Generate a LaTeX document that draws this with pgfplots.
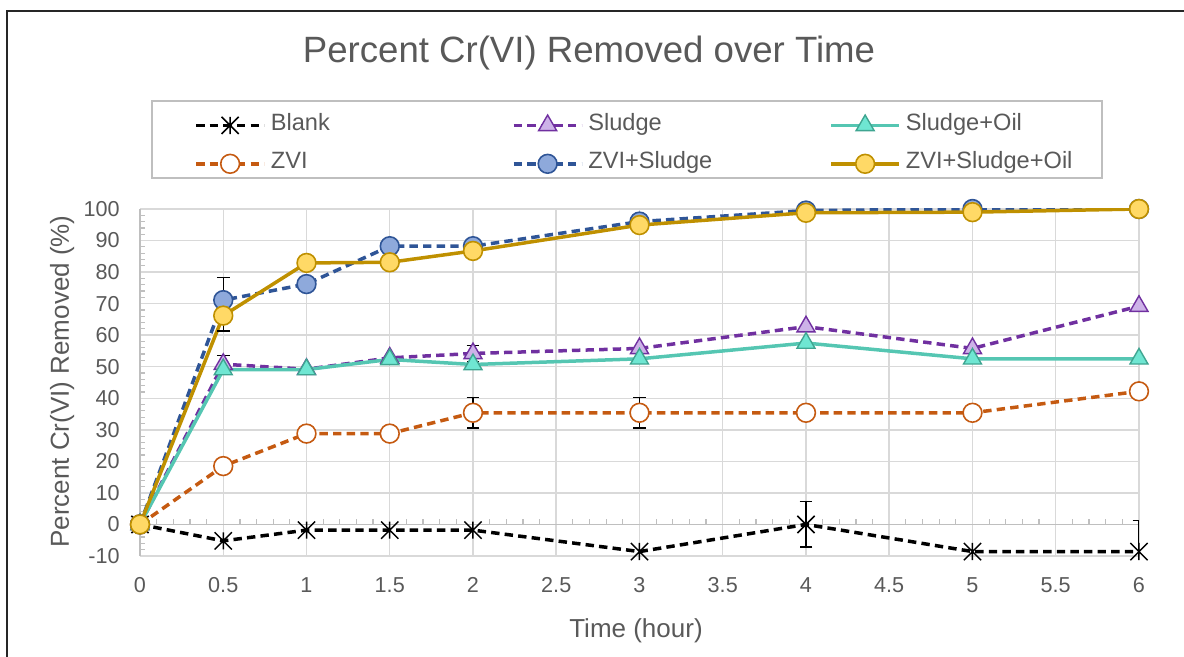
\documentclass[border=0pt]{standalone}
\usepackage{fontspec}
\setmainfont{Liberation Sans}
\usepackage{pgfplots}
\pgfplotsset{compat=1.18}
\definecolor{txt}{HTML}{595959}
\definecolor{gridc}{HTML}{D9D9D9}
\definecolor{axc}{HTML}{BFBFBF}
\definecolor{zvi}{HTML}{C55A11}
\definecolor{sl}{HTML}{7030A0}
\definecolor{slf}{HTML}{CDB2E8}
\definecolor{so}{HTML}{55C6B2}
\definecolor{sof}{HTML}{6FE6D2}
\definecolor{soe}{HTML}{3FA591}
\definecolor{zs}{HTML}{2F5597}
\definecolor{zsf}{HTML}{8EA9DB}
\definecolor{zso}{HTML}{BF9000}
\definecolor{zsof}{HTML}{FFD966}
\pgfdeclareplotmark{xstar}{%
  \pgfpathmoveto{\pgfqpoint{-\pgfplotmarksize}{-\pgfplotmarksize}}%
  \pgfpathlineto{\pgfqpoint{\pgfplotmarksize}{\pgfplotmarksize}}%
  \pgfpathmoveto{\pgfqpoint{-\pgfplotmarksize}{\pgfplotmarksize}}%
  \pgfpathlineto{\pgfqpoint{\pgfplotmarksize}{-\pgfplotmarksize}}%
  \pgfpathmoveto{\pgfqpoint{0pt}{-\pgfplotmarksize}}%
  \pgfpathlineto{\pgfqpoint{0pt}{\pgfplotmarksize}}%
  \pgfusepathqstroke}
\pgfplotsset{
  errstyle/.style={draw=none, forget plot, error bars/.cd, y dir=#1, y explicit,
    error bar style={draw=black, solid, line width=0.75pt},
    error mark options={draw=black, solid, rotate=90, mark size=3.2pt, line width=0.75pt}},
  dashed line/.style={dash pattern=on 4.2pt off 2.6pt},
}
\begin{document}
\begin{tikzpicture}
\useasboundingbox (0pt,0pt) rectangle (592pt,328.5pt);
\draw[line width=1pt, black!85] (3.5pt,-5pt) -- (3.5pt,323pt) -- (600pt,323pt);
\node[font=\fontsize{18.3}{21}\selectfont, text=txt, anchor=base] at (294.5pt,297.3pt) {Percent Cr(VI) Removed over Time};
\draw[axc, line width=1pt] (76pt,278pt) rectangle (551pt,239.5pt);
% background axis: grid and labels
\begin{axis}[
  at={(70pt,50.5pt)}, anchor=south west, scale only axis,
  width=499.5pt, height=173.5pt,
  xmin=0, xmax=6, ymin=-10, ymax=100,
  xtick={0,0.5,...,6}, ytick={-10,0,...,100},
  grid=major, major grid style={gridc, line width=0.75pt},
  axis line style={draw=none}, major tick length=0pt, tick style={draw=none},
  ticklabel style={font=\fontsize{10.8}{13}\selectfont, text=txt},
  /pgf/number format/assume math mode=true,
  xticklabel style={anchor=base, yshift=-18.5pt},
  yticklabel style={anchor=east, inner xsep=0pt, xshift=-10pt},
  xlabel={Time (hour)}, ylabel={Percent Cr(VI) Removed (\%)},
  label style={font=\fontsize{13}{15}\selectfont, text=txt},
  xlabel style={at={(axis description cs:0.4965,-0.216)}, anchor=center},
  ylabel style={at={(axis description cs:-0.078,0.503)}, anchor=center},
]
\end{axis}
% data axis
\begin{axis}[
  at={(70pt,50.5pt)}, anchor=south west, scale only axis,
  width=499.5pt, height=173.5pt,
  xmin=0, xmax=6, ymin=-10, ymax=100,
  axis x line=middle, axis y line=left,
  axis line style={axc, line width=0.75pt, -},
  xtick={0,0.5,...,6}, ytick={-10,0,...,100},
  xticklabels={}, yticklabels={},
  minor x tick num=4, minor y tick num=4,
  major tick length=0pt, minor tick length=2.5pt, tick align=inside,
  minor tick style={axc, line width=0.6pt},
  legend style={
    at={(axis description cs:0.05405,1.2720)}, anchor=north west,
    draw=none, fill=none, inner sep=0pt, row sep=9.2pt, column sep=0pt,
    font=\fontsize{11.8}{14}\selectfont, text=txt,
    nodes={inner xsep=2.5pt, inner ysep=0pt, text width=118pt,
      text height=0.75em, text depth=0.25em, align=left},
  },
  legend cell align=left, legend columns=3,
  legend image code/.code={\draw[mark repeat=2,mark phase=2] plot coordinates {(0pt,0pt) (17pt,0pt) (34pt,0pt)};},
]
% Blank
\addplot[black, line width=1.75pt, dashed line, mark=xstar, mark size=4.3pt, mark options={solid, line width=0.75pt}]
  coordinates {(0,0) (0.5,-5.2) (1,-1.8) (1.5,-1.8) (2,-1.8) (3,-8.6) (4,0) (5,-8.6) (6,-8.6)};
\addlegendentry{Blank}
\addplot[errstyle=both]
  coordinates {(4,0) +- (0,7.2) (6,-8.6) +- (0,9.8)};
% Sludge
\addplot[sl, line width=1.75pt, dashed line, mark=triangle*, mark size=5.2pt, mark options={solid, fill=slf, draw=sl, line width=0.7pt}]
  coordinates {(0,0) (0.5,50.8) (1,49.2) (1.5,52.8) (2,54.2) (3,55.8) (4,62.7) (5,55.8) (6,69.2)};
\addlegendentry{Sludge}
\addplot[errstyle=both]
  coordinates {(0.5,50.8) +- (0,2.7) (2,54.2) +- (0,2.5)};
% Sludge+Oil
\addplot[so, line width=1.75pt, mark=triangle*, mark size=5.2pt, mark options={solid, fill=sof, draw=soe, line width=0.7pt}]
  coordinates {(0,0) (0.5,49.1) (1,49.1) (1.5,52.3) (2,50.7) (3,52.5) (4,57.5) (5,52.5) (6,52.5)};
\addlegendentry{Sludge+Oil}
% ZVI
\addplot[zvi, line width=1.75pt, dashed line, mark=*, mark size=4.7pt, mark options={solid, fill=white, draw=zvi, line width=0.8pt}]
  coordinates {(0,0) (0.5,18.5) (1,28.8) (1.5,28.8) (2,35.4) (3,35.4) (4,35.4) (5,35.4) (6,42.2)};
\addlegendentry{ZVI}
\addplot[errstyle=both]
  coordinates {(2,35.4) +- (0,4.8) (3,35.4) +- (0,4.8)};
% ZVI+Sludge
\addplot[zs, line width=1.75pt, dashed line, mark=*, mark size=4.7pt, mark options={solid, fill=zsf, draw=zs, line width=0.8pt}]
  coordinates {(0,0) (0.5,71.1) (1,76.2) (1.5,88.2) (2,88.2) (3,96) (4,99.5) (5,100) (6,100)};
\addlegendentry{ZVI+Sludge}
\addplot[errstyle=plus]
  coordinates {(0.5,71.1) +- (0,7.2)};
% ZVI+Sludge+Oil
\addplot[zso, line width=1.75pt, mark=*, mark size=4.7pt, mark options={solid, fill=zsof, draw=zso, line width=0.8pt}]
  coordinates {(0,0) (0.5,66.2) (1,82.9) (1.5,83.1) (2,86.7) (3,94.9) (4,98.8) (5,99) (6,100)};
\addlegendentry{ZVI+Sludge+Oil}
\addplot[errstyle=minus]
  coordinates {(0.5,66.2) +- (0,4.9)};
\end{axis}
\end{tikzpicture}
\end{document}
